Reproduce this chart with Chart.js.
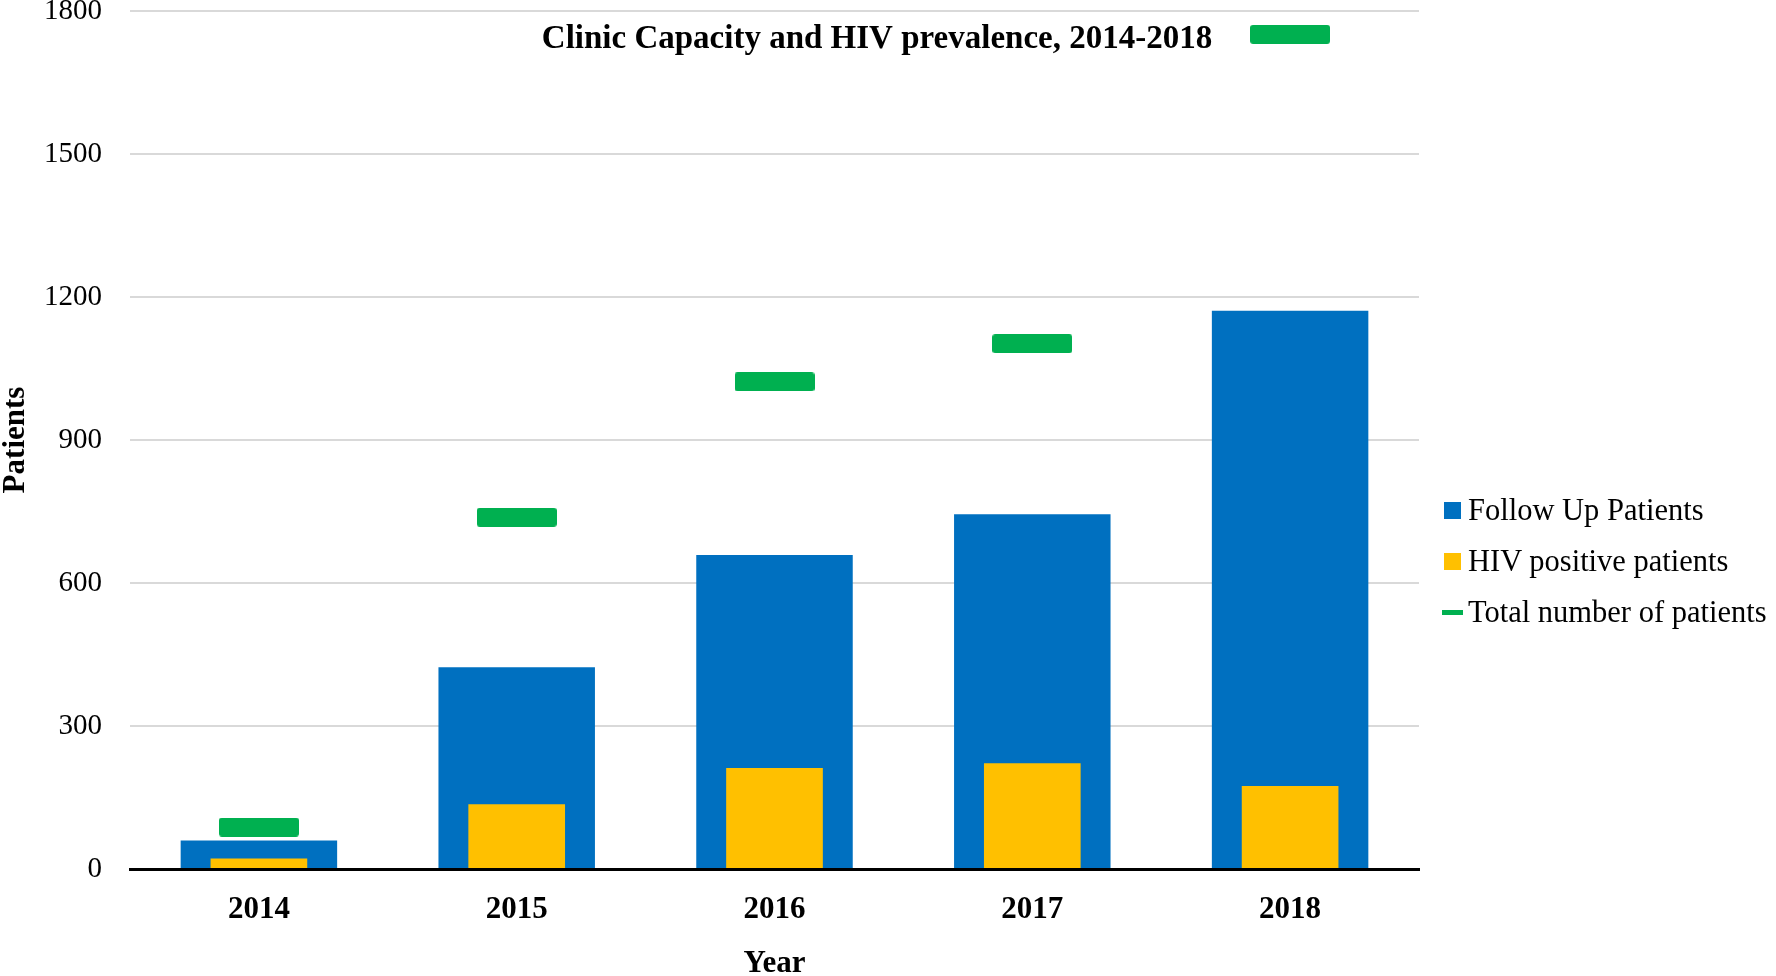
<!DOCTYPE html>
<html><head><meta charset="utf-8">
<script src="https://cdn.jsdelivr.net/npm/chart.js@4.4.0/dist/chart.umd.min.js"></script>
<style>
html,body{margin:0;padding:0;background:#fff;}
#wrap{position:relative;width:1776px;height:976px;}
#legend{position:absolute;left:1442px;top:0;font-family:'Liberation Serif','Times New Roman',serif;font-size:30.5px;color:#000;}
.item{position:absolute;left:0;white-space:nowrap;height:36px;line-height:36px;display:flex;align-items:center;}
.sw{width:26px;display:flex;align-items:center;}
</style></head>
<body><div id="wrap"><canvas id="c" width="1776" height="976"></canvas><div id="legend"></div></div>
<script>
const categories = ['2014', '2015', '2016', '2017', '2018'];
const followUpPatients = [60, 423, 659, 744, 1171];
const hivPositivePatients = [22, 136, 212, 222, 174];
const totalPatients = [88, 738, 1022, 1102, 1751];
const yTicks = [0, 300, 600, 900, 1200, 1500, 1800];
const seriesNames = ['Follow Up Patients', 'HIV positive patients', 'Total number of patients'];
const chartTitle = 'Clinic Capacity and HIV prevalence, 2014-2018';

const BLUE = '#0070C0', YELLOW = '#FFC000', GREEN = '#00B050';
const FONT = "'Liberation Serif', 'Times New Roman', serif";

// green marker image for the total series
const marker = document.createElement('canvas');
marker.width = 80; marker.height = 19;
(function(){
  const m = marker.getContext('2d');
  m.fillStyle = GREEN;
  m.beginPath();
  if (m.roundRect) m.roundRect(0, 0, 80, 19, 3); else m.rect(0, 0, 80, 19);
  m.fill();
})();

const titlePlugin = {
  id: 'innerTitle',
  afterDatasetsDraw(chart) {
    const ctx = chart.ctx;
    ctx.save();
    ctx.font = "bold 33px " + FONT;
    ctx.fillStyle = '#000';
    ctx.textAlign = 'center';
    ctx.textBaseline = 'middle';
    ctx.fillText(chartTitle, 877, 39);
    ctx.restore();
  }
};

const chart = new Chart(document.getElementById('c'), {
  data: {
    labels: categories,
    datasets: [
      { type: 'bar', label: seriesNames[0], data: followUpPatients, backgroundColor: BLUE,
        grouped: false, categoryPercentage: 1, barPercentage: 0.607, order: 3 },
      { type: 'bar', label: seriesNames[1], data: hivPositivePatients, backgroundColor: YELLOW,
        grouped: false, categoryPercentage: 1, barPercentage: 0.375, order: 2 },
      { type: 'line', label: seriesNames[2], data: totalPatients, showLine: false,
        pointStyle: marker, backgroundColor: GREEN, borderColor: GREEN, order: 1 }
    ]
  },
  options: {
    responsive: false,
    animation: false,
    devicePixelRatio: 1,
    layout: { padding: { left: 0, right: 357, top: 11, bottom: 0 } },
    plugins: { legend: { display: false }, tooltip: { enabled: false }, title: { display: false } },
    scales: {
      x: {
        grid: { display: false, drawTicks: false },
        border: { display: true, color: '#000', width: 3 },
        ticks: { color: '#000', font: { family: FONT, size: 31, weight: 'bold' }, padding: 22, maxRotation: 0 },
        title: { display: true, text: 'Year', color: '#000', font: { family: FONT, size: 31, weight: 'bold', lineHeight: 0.8 }, padding: 0 },
        afterFit(s) { s.height = 107; s.paddingLeft = 0; s.paddingRight = 0; }
      },
      y: {
        min: 0, max: 1800,
        afterBuildTicks(s) { s.ticks = yTicks.map(v => ({ value: v })); },
        grid: { color: '#d9d9d9', lineWidth: 2, drawTicks: false },
        border: { display: false },
        ticks: { color: '#000', font: { family: FONT, size: 29 }, padding: 28, callback: v => String(v) },
        title: { display: true, text: 'Patients', color: '#000', font: { family: FONT, size: 31, weight: 'bold', lineHeight: 1.05 }, padding: 0 },
        afterFit(s) { s.width = 130; s.paddingTop = 0; s.paddingBottom = 0; }
      }
    }
  },
  plugins: [titlePlugin]
});

// HTML legend built from the datasets
const legend = document.getElementById('legend');
const centers = [510, 561, 612];
chart.data.datasets.forEach((ds, i) => {
  const item = document.createElement('div');
  item.className = 'item';
  item.style.top = (centers[i] - 18) + 'px';
  const sw = document.createElement('span');
  sw.className = 'sw';
  const mark = document.createElement('span');
  mark.style.display = 'inline-block';
  mark.style.background = ds.backgroundColor;
  if (ds.type === 'line') { mark.style.width = '21px'; mark.style.height = '5px'; }
  else { mark.style.width = '17px'; mark.style.height = '17px'; mark.style.marginLeft = '2px'; }
  sw.appendChild(mark);
  const txt = document.createElement('span');
  txt.textContent = ds.label;
  item.appendChild(sw); item.appendChild(txt);
  legend.appendChild(item);
});
</script>
</body></html>
